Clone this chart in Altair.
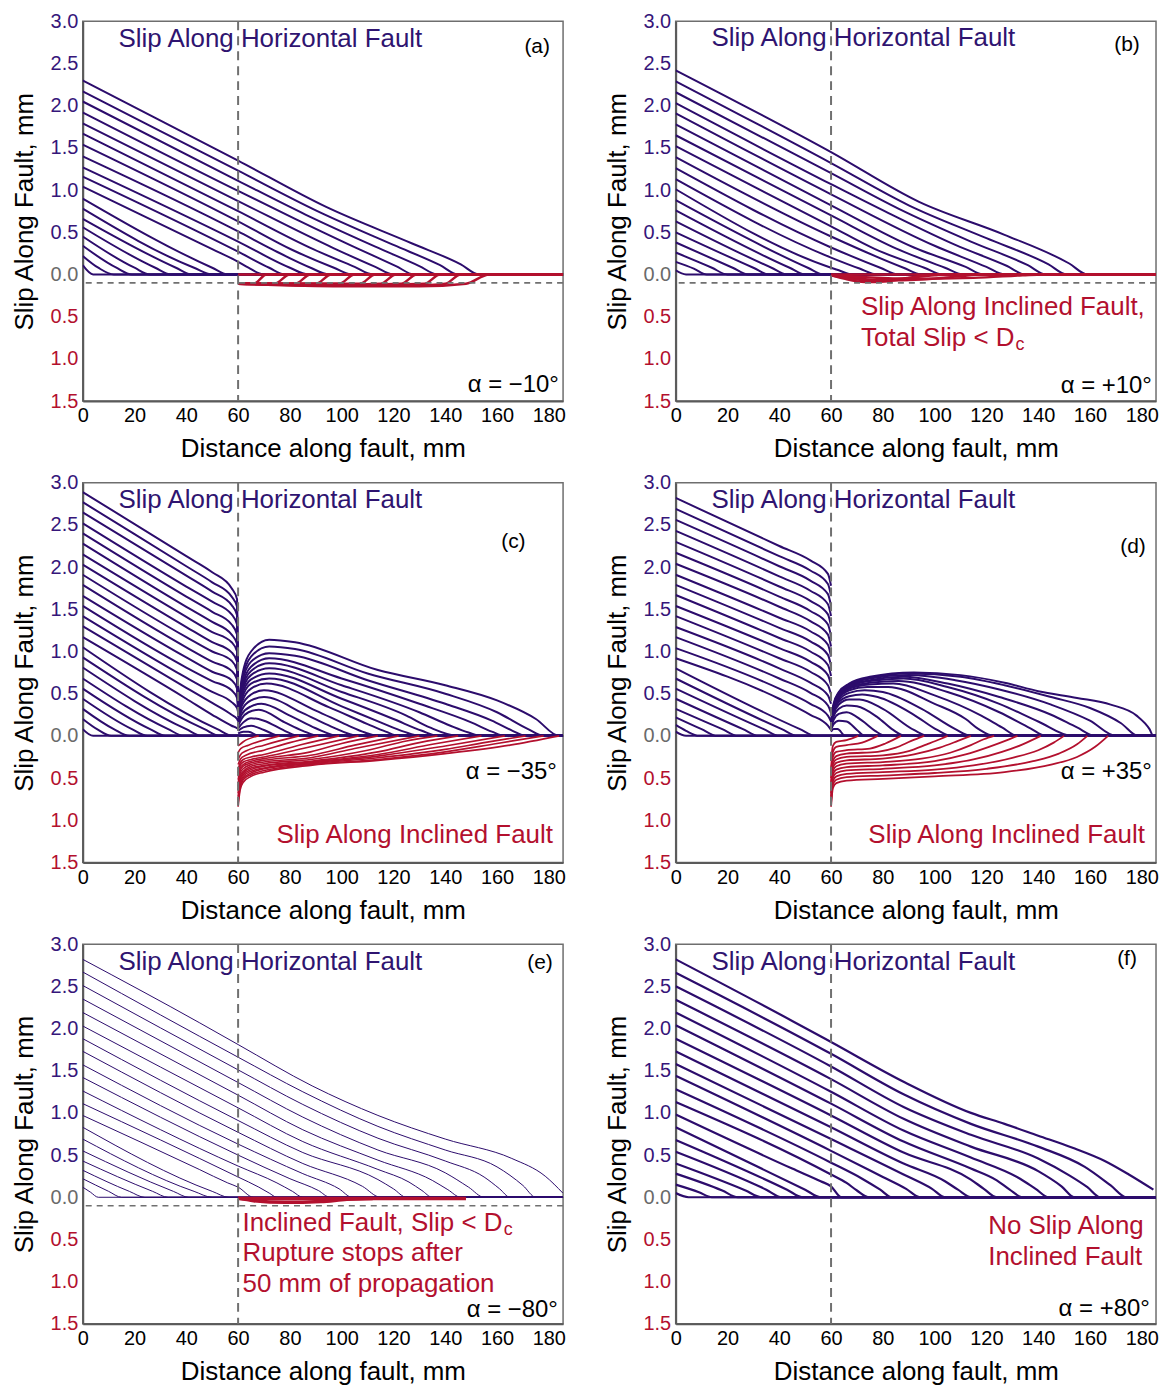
import altair as alt
import pandas as pd

PURPLE = "#2c0c6c"
PURPLE_T = "#2f1470"
RED = "#b3102e"
GRAY = "#6a6a6a"
FONT = "Liberation Sans"
X_END = 185.5

# ---------------- panel (a)  alpha = -10 deg ----------------
A_PURPLE = [
    [(0, 2.30), (60, 1.35), (94, 0.80), (127, 0.37), (146, 0.12), (153, 0)],
    [(0, 2.17), (60, 1.23), (90, 0.76), (120, 0.35), (138, 0.11), (145, 0)],
    [(0, 2.05), (60, 1.11), (86, 0.71), (113, 0.33), (130, 0.10), (137, 0)],
    [(0, 1.92), (60, 0.99), (82, 0.66), (106, 0.31), (121, 0.10), (128, 0)],
    [(0, 1.79), (60, 0.87), (97, 0.31), (113, 0.09), (120, 0)],
    [(0, 1.67), (60, 0.75), (89, 0.30), (105, 0.09), (112, 0)],
    [(0, 1.54), (60, 0.63), (81, 0.29), (97, 0.08), (104, 0)],
    [(0, 1.40), (60, 0.51), (73, 0.30), (88, 0.08), (95, 0)],
    [(0, 1.27), (60, 0.39), (80, 0.08), (87, 0)],
    [(0, 1.16), (60, 0.27), (72, 0.08), (78, 0)],
    [(0, 1.04), (50, 0.30), (60, 0.15), (64, 0.08), (70, 0)],
    [(0, 0.90), (50, 0.08), (56, 0)],
    [(0, 0.78), (43, 0.08), (50, 0)],
    [(0, 0.66), (36, 0.08), (42, 0)],
    [(0, 0.56), (28, 0.08), (34, 0)],
    [(0, 0.45), (20, 0.08), (26, 0)],
    [(0, 0.34), (13, 0.08), (19, 0)],
    [(0, 0.22), (6, 0.08), (12, 0)],
    [(0, 0.11), (4, 0)],
]
A_RED = [
    [(60, 0), (X_END, 0)],
    [(60, -0.11), (100, -0.14), (130, -0.14), (148, -0.11), (157, 0)],
    [(60, -0.11), (100, -0.135), (128, -0.13), (140, -0.11), (146, 0)],
    [(60, -0.11), (100, -0.13), (132, -0.11), (138, 0)],
    [(60, -0.11), (100, -0.125), (123, -0.11), (129, 0)],
    [(60, -0.11), (100, -0.12), (115, -0.11), (121, 0)],
    [(60, -0.11), (107, -0.11), (113, 0)],
    [(60, -0.11), (99, -0.11), (105, 0)],
    [(60, -0.11), (90, -0.11), (96, 0)],
    [(60, -0.11), (82, -0.11), (88, 0)],
    [(60, -0.11), (74, -0.11), (80, 0)],
    [(60, -0.11), (66, -0.11), (71, 0)],
]

# ---------------- panel (b)  alpha = +10 deg ----------------
B_PURPLE = [
    [(0, 2.42), (60, 1.45), (94, 0.86), (127, 0.47), (152, 0.13), (159, 0)],
    [(0, 2.29), (60, 1.32), (90, 0.82), (120, 0.43), (144, 0.12), (151, 0)],
    [(0, 2.16), (60, 1.20), (86, 0.78), (114, 0.39), (136, 0.11), (143, 0)],
    [(0, 2.03), (60, 1.07), (82, 0.73), (108, 0.35), (128, 0.10), (135, 0)],
    [(0, 1.91), (60, 0.95), (100, 0.34), (120, 0.09), (127, 0)],
    [(0, 1.78), (60, 0.82), (92, 0.32), (112, 0.09), (119, 0)],
    [(0, 1.65), (60, 0.70), (85, 0.31), (104, 0.08), (111, 0)],
    [(0, 1.52), (60, 0.57), (77, 0.30), (96, 0.08), (103, 0)],
    [(0, 1.39), (60, 0.45), (88, 0.08), (95, 0)],
    [(0, 1.26), (60, 0.32), (79, 0.08), (86, 0)],
    [(0, 1.13), (60, 0.20), (71, 0.07), (78, 0)],
    [(0, 1.01), (60, 0.08), (63, 0.05), (68, 0)],
    [(0, 0.88), (51, 0.08), (57, 0)],
    [(0, 0.76), (44, 0.08), (50, 0)],
    [(0, 0.63), (37, 0.08), (43, 0)],
    [(0, 0.50), (30, 0.08), (36, 0)],
    [(0, 0.38), (22, 0.08), (28, 0)],
    [(0, 0.26), (14, 0.08), (20, 0)],
    [(0, 0.15), (7, 0.07), (12, 0)],
    [(0, 0.05), (4, 0)],
]
B_RED = [
    [(60, 0), (X_END, 0)],
    [(60, -0.01), (65, -0.05), (73, -0.09), (82, -0.08), (92, -0.03), (98, 0)],
    [(60, -0.01), (68, -0.04), (80, -0.07), (95, -0.06), (110, -0.02), (118, 0)],
    [(60, -0.01), (72, -0.03), (90, -0.05), (115, -0.04), (134, -0.01), (142, 0)],
    [(60, -0.01), (70, -0.06), (77, -0.07), (86, -0.05), (100, -0.01), (105, 0)],
]

# ---------------- panel (c)  alpha = -35 deg ----------------
C_PURPLE = [
    # left of the junction, still slipping at x = 60
    [(0, 2.89), (40, 2.13), (50, 1.94), (57.5, 1.75), (59.6, 1.62), (60, 0.30)],
    [(0, 2.77), (40, 2.01), (50, 1.82), (57.5, 1.65), (59.6, 1.53), (60, 0.30)],
    [(0, 2.65), (40, 1.90), (50, 1.71), (57.5, 1.55), (59.6, 1.43), (60, 0.30)],
    [(0, 2.52), (40, 1.77), (50, 1.59), (57.5, 1.44), (59.6, 1.32), (60, 0.30)],
    [(0, 2.40), (40, 1.65), (50, 1.47), (57.5, 1.32), (59.6, 1.20), (60, 0.30)],
    [(0, 2.28), (40, 1.53), (50, 1.35), (57.5, 1.20), (59.6, 1.09), (60, 0.30)],
    [(0, 2.15), (40, 1.41), (50, 1.23), (57.5, 1.11), (59.6, 1.00), (60, 0.30)],
    [(0, 2.03), (40, 1.29), (50, 1.11), (57.5, 0.99), (59.6, 0.88), (60, 0.30)],
    [(0, 1.91), (40, 1.17), (50, 1.00), (57.5, 0.89), (59.6, 0.78), (60, 0.30)],
    [(0, 1.79), (40, 1.05), (50, 0.88), (57.5, 0.77), (59.6, 0.67), (60, 0.30)],
    [(0, 1.66), (40, 0.93), (50, 0.76), (57.5, 0.66), (59.6, 0.56), (60, 0.30)],
    [(0, 1.54), (40, 0.81), (50, 0.65), (57.5, 0.54), (59.6, 0.45), (60, 0.30)],
    [(0, 1.42), (40, 0.69), (50, 0.52), (57.5, 0.40), (59.6, 0.33), (60, 0.28)],
    [(0, 1.30), (40, 0.57), (50, 0.39), (57.5, 0.25), (59.6, 0.20), (60, 0.17)],
    [(0, 1.17), (40, 0.44), (50, 0.25), (57.5, 0.12), (59.6, 0.09), (60, 0.08)],
    # early profiles, arrested before the junction
    [(0, 1.05), (52, 0.08), (58, 0)],
    [(0, 0.93), (47, 0.08), (53, 0)],
    [(0, 0.81), (40, 0.08), (46, 0)],
    [(0, 0.68), (33, 0.08), (39, 0)],
    [(0, 0.56), (26, 0.08), (32, 0)],
    [(0, 0.44), (19, 0.08), (25, 0)],
    [(0, 0.32), (12, 0.08), (18, 0)],
    [(0, 0.20), (6, 0.07), (11, 0)],
    [(0, 0.08), (4, 0)],
    # right of the junction
    [(60, 0.30), (61.5, 0.70), (65, 1.00), (72, 1.14), (82, 1.11), (114, 0.78), (140, 0.60), (160, 0.42), (175, 0.20), (184, 0)],
    [(60, 0.30), (61.5, 0.66), (65, 0.94), (72, 1.06), (82, 1.03), (110, 0.74), (140, 0.50), (160, 0.28), (172, 0.08), (178, 0)],
    [(60, 0.30), (61.5, 0.62), (65, 0.88), (72, 0.98), (82, 0.95), (110, 0.66), (140, 0.38), (158, 0.18), (166, 0.06), (171, 0)],
    [(60, 0.30), (61.5, 0.58), (65, 0.82), (72, 0.92), (100, 0.68), (130, 0.38), (150, 0.16), (158, 0.05), (163, 0)],
    [(60, 0.30), (61.5, 0.55), (65, 0.77), (72, 0.86), (100, 0.60), (130, 0.28), (142, 0.12), (149, 0.04), (154, 0)],
    [(60, 0.28), (61.5, 0.52), (65, 0.72), (72, 0.80), (100, 0.52), (125, 0.24), (134, 0.10), (145, 0)],
    [(60, 0.26), (61.5, 0.48), (65, 0.67), (72, 0.74), (100, 0.44), (120, 0.20), (131, 0.06), (137, 0)],
    [(60, 0.24), (61.5, 0.44), (65, 0.62), (72, 0.68), (100, 0.35), (115, 0.16), (124, 0.05), (130, 0)],
    [(60, 0.22), (61.5, 0.40), (65, 0.56), (71, 0.62), (95, 0.34), (110, 0.14), (117, 0.05), (122, 0)],
    [(60, 0.20), (61.5, 0.36), (65, 0.49), (70, 0.54), (90, 0.30), (102, 0.13), (109, 0.04), (114, 0)],
    [(60, 0.18), (61.5, 0.31), (65, 0.42), (70, 0.46), (85, 0.27), (96, 0.11), (106.5, 0)],
    [(60, 0.15), (61.5, 0.26), (65, 0.35), (69, 0.38), (80, 0.24), (90, 0.09), (99, 0)],
    [(60, 0.12), (61.5, 0.21), (64, 0.28), (68, 0.31), (78, 0.16), (85, 0.06), (91, 0)],
    [(60, 0.09), (62, 0.16), (65, 0.21), (70, 0.18), (78, 0.06), (83.5, 0)],
    [(60, 0.06), (62, 0.10), (65, 0.12), (70, 0.07), (76, 0)],
    [(60, 0.03), (62, 0.05), (64, 0.05), (68, 0)],
]
C_RED = [
    [(60, -0.84), (60.8, -0.64), (62, -0.55), (65, -0.48), (70, -0.43), (88, -0.35), (114, -0.29), (140, -0.21), (165, -0.11), (184, 0)],
    [(60, -0.80), (60.8, -0.61), (62, -0.52), (65, -0.46), (70, -0.41), (88, -0.34), (114, -0.28), (140, -0.19), (160, -0.09), (178, 0)],
    [(60, -0.76), (60.8, -0.58), (62, -0.50), (65, -0.44), (70, -0.39), (88, -0.33), (114, -0.26), (140, -0.16), (155, -0.08), (171, 0)],
    [(60, -0.72), (60.8, -0.55), (62, -0.48), (65, -0.42), (70, -0.38), (88, -0.32), (114, -0.24), (140, -0.12), (163, 0)],
    [(60, -0.68), (60.8, -0.52), (62, -0.46), (65, -0.40), (70, -0.36), (88, -0.31), (114, -0.22), (135, -0.10), (154, 0)],
    [(60, -0.64), (60.8, -0.50), (62, -0.44), (65, -0.38), (70, -0.35), (88, -0.30), (114, -0.19), (130, -0.08), (145, 0)],
    [(60, -0.60), (60.8, -0.47), (62, -0.42), (65, -0.36), (70, -0.33), (88, -0.28), (110, -0.17), (125, -0.06), (137, 0)],
    [(60, -0.56), (60.8, -0.44), (62, -0.39), (65, -0.34), (70, -0.31), (88, -0.26), (105, -0.15), (130, 0)],
    [(60, -0.52), (60.8, -0.41), (62, -0.36), (65, -0.32), (70, -0.29), (88, -0.23), (105, -0.11), (122, 0)],
    [(60, -0.48), (60.8, -0.38), (62, -0.34), (65, -0.30), (70, -0.27), (88, -0.19), (100, -0.09), (114, 0)],
    [(60, -0.44), (60.8, -0.35), (62, -0.31), (65, -0.28), (70, -0.25), (85, -0.15), (106.5, 0)],
    [(60, -0.40), (60.8, -0.32), (62, -0.28), (65, -0.25), (70, -0.22), (85, -0.10), (99, 0)],
    [(60, -0.34), (61, -0.27), (63, -0.23), (70, -0.17), (80, -0.08), (91, 0)],
    [(60, -0.28), (61, -0.22), (63, -0.18), (70, -0.11), (83.5, 0)],
    [(60, -0.20), (61, -0.15), (64, -0.11), (76, 0)],
    [(60, -0.12), (62, -0.07), (68, 0)],
]

# ---------------- panel (d)  alpha = +35 deg ----------------
D_PURPLE = [
    [(0, 2.82), (40, 2.25), (52, 2.08), (58.8, 1.92), (60, 1.78)],
    [(0, 2.69), (40, 2.13), (52, 1.96), (58.8, 1.80), (60, 1.66)],
    [(0, 2.56), (40, 2.01), (52, 1.84), (58.8, 1.68), (60, 1.54)],
    [(0, 2.43), (40, 1.89), (52, 1.72), (58.8, 1.56), (60, 1.42)],
    [(0, 2.30), (40, 1.77), (52, 1.60), (58.8, 1.44), (60, 1.30)],
    [(0, 2.17), (40, 1.65), (52, 1.48), (58.8, 1.32), (60, 1.18)],
    [(0, 2.04), (40, 1.53), (52, 1.36), (58.8, 1.20), (60, 1.06)],
    [(0, 1.91), (40, 1.40), (52, 1.24), (58.8, 1.08), (60, 0.94)],
    [(0, 1.79), (40, 1.28), (52, 1.12), (58.8, 0.96), (60, 0.83)],
    [(0, 1.67), (40, 1.16), (52, 1.00), (58.8, 0.84), (60, 0.71)],
    [(0, 1.54), (40, 1.04), (52, 0.88), (58.8, 0.72), (60, 0.60)],
    [(0, 1.42), (40, 0.92), (52, 0.76), (58.8, 0.60), (60, 0.49)],
    [(0, 1.29), (40, 0.80), (52, 0.63), (58.8, 0.48), (60, 0.38)],
    [(0, 1.17), (40, 0.68), (52, 0.51), (58.8, 0.36), (60, 0.27)],
    [(0, 1.04), (40, 0.56), (52, 0.38), (58.8, 0.24), (60, 0.17)],
    [(0, 0.92), (40, 0.44), (52, 0.25), (58.8, 0.12), (60, 0.07)],
    [(0, 0.80), (48, 0.08), (54, 0)],
    [(0, 0.68), (41, 0.08), (47, 0)],
    [(0, 0.56), (34, 0.08), (40, 0)],
    [(0, 0.44), (26, 0.08), (32, 0)],
    [(0, 0.32), (18, 0.08), (24, 0)],
    [(0, 0.22), (10, 0.08), (16, 0)],
    [(0, 0.13), (4, 0.06), (9, 0)],
    [(0, 0.05), (4, 0)],
    [(60, 0.15), (61, 0.38), (63, 0.52), (67, 0.62), (75, 0.70), (92, 0.75), (110, 0.72), (127, 0.63), (140, 0.53), (155, 0.45), (168, 0.37), (178, 0.24), (183, 0.08), (184.5, 0)],
    [(60, 0.15), (61, 0.37), (63, 0.51), (67, 0.61), (75, 0.69), (90, 0.74), (110, 0.70), (127, 0.60), (145, 0.46), (160, 0.33), (172, 0.15), (178.6, 0)],
    [(60, 0.15), (61, 0.36), (63, 0.50), (67, 0.60), (75, 0.68), (90, 0.72), (108, 0.66), (125, 0.55), (145, 0.37), (160, 0.18), (170, 0)],
    [(60, 0.14), (61, 0.35), (63, 0.49), (67, 0.59), (75, 0.66), (88, 0.70), (105, 0.62), (125, 0.46), (145, 0.25), (155, 0.10), (162, 0)],
    [(60, 0.14), (61, 0.34), (63, 0.48), (67, 0.58), (75, 0.65), (88, 0.68), (105, 0.58), (125, 0.38), (140, 0.17), (153, 0)],
    [(60, 0.14), (61, 0.33), (63, 0.47), (67, 0.57), (75, 0.63), (86, 0.65), (105, 0.52), (125, 0.28), (137, 0.09), (143, 0)],
    [(60, 0.13), (61, 0.32), (63, 0.46), (67, 0.56), (75, 0.61), (84, 0.62), (100, 0.48), (118, 0.24), (126, 0.10), (132, 0)],
    [(60, 0.13), (61, 0.31), (63, 0.44), (67, 0.54), (74, 0.58), (82, 0.58), (100, 0.38), (112, 0.20), (117, 0.08), (123, 0)],
    [(60, 0.12), (61, 0.30), (63, 0.42), (67, 0.51), (73, 0.54), (80, 0.52), (95, 0.32), (108, 0.08), (114, 0)],
    [(60, 0.12), (61, 0.28), (63, 0.40), (67, 0.47), (72, 0.49), (78, 0.46), (92, 0.25), (101, 0.07), (106.5, 0)],
    [(60, 0.11), (61, 0.26), (63, 0.37), (67, 0.43), (71, 0.43), (80, 0.32), (92, 0.07), (97.6, 0)],
    [(60, 0.10), (61, 0.23), (63, 0.32), (66, 0.36), (70, 0.35), (78, 0.22), (84, 0.07), (88.6, 0)],
    [(60, 0.09), (61, 0.19), (63, 0.26), (66, 0.28), (72, 0.18), (77, 0.06), (81, 0)],
    [(60, 0.07), (61, 0.14), (63, 0.18), (66, 0.17), (70, 0.07), (73, 0)],
    [(60, 0.05), (61, 0.08), (62.5, 0.08), (65.5, 0)],
]
D_RED = [
    [(60, -0.84), (60.7, -0.62), (62, -0.56), (66, -0.53), (80, -0.51), (100, -0.48), (127, -0.43), (145, -0.34), (155, -0.25), (162, -0.13), (167, 0)],
    [(60, -0.80), (60.7, -0.58), (62, -0.52), (66, -0.49), (80, -0.47), (100, -0.44), (120, -0.39), (138, -0.30), (148, -0.21), (155, -0.10), (159, 0)],
    [(60, -0.76), (60.7, -0.54), (62, -0.48), (66, -0.45), (80, -0.43), (100, -0.40), (115, -0.35), (130, -0.26), (140, -0.17), (146, -0.08), (150, 0)],
    [(60, -0.72), (60.7, -0.50), (62, -0.44), (66, -0.41), (80, -0.39), (100, -0.35), (115, -0.28), (126, -0.19), (134, -0.10), (141, 0)],
    [(60, -0.68), (60.7, -0.46), (62, -0.40), (66, -0.37), (80, -0.35), (100, -0.30), (112, -0.22), (121, -0.13), (128, -0.05), (132, 0)],
    [(60, -0.64), (60.7, -0.42), (62, -0.36), (66, -0.33), (80, -0.31), (95, -0.27), (106, -0.20), (114, -0.11), (119, -0.04), (123, 0)],
    [(60, -0.60), (60.7, -0.38), (62, -0.32), (66, -0.29), (80, -0.27), (92, -0.22), (102, -0.14), (109, -0.06), (114, 0)],
    [(60, -0.55), (60.7, -0.34), (62, -0.28), (66, -0.25), (80, -0.23), (90, -0.18), (97, -0.10), (102, -0.04), (105, 0)],
    [(60, -0.50), (60.7, -0.30), (62, -0.24), (66, -0.21), (78, -0.19), (85, -0.14), (91, -0.06), (96, 0)],
    [(60, -0.45), (60.7, -0.25), (62, -0.19), (66, -0.17), (75, -0.15), (81, -0.09), (87, 0)],
    [(60, -0.38), (60.7, -0.19), (62, -0.13), (66, -0.11), (72, -0.08), (78, 0)],
    [(60, -0.30), (60.7, -0.12), (62, -0.07), (66, -0.05), (70.5, 0)],
]

# ---------------- panel (e)  alpha = -80 deg ----------------
E_PURPLE = [
    [(0, 2.82), (45, 2.07), (60, 1.81), (88.6, 1.32), (114, 0.97), (140, 0.69), (165.7, 0.46), (178.6, 0.25), (185.4, 0.05)],
    [(0, 2.67), (60, 1.66), (85, 1.25), (114, 0.84), (140, 0.56), (160, 0.36), (170, 0.14), (175, 0)],
    [(0, 2.51), (60, 1.51), (85, 1.10), (114, 0.70), (140, 0.43), (155, 0.24), (161, 0.10), (165, 0)],
    [(0, 2.35), (60, 1.36), (85, 0.95), (114, 0.56), (140, 0.29), (149, 0.12), (155, 0)],
    [(0, 2.19), (60, 1.21), (85, 0.80), (114, 0.44), (135, 0.20), (141, 0.09), (146, 0)],
    [(0, 2.03), (60, 1.06), (85, 0.66), (114, 0.33), (126, 0.18), (131, 0.08), (135, 0)],
    [(0, 1.88), (60, 0.91), (85, 0.53), (114, 0.21), (120, 0.10), (125, 0)],
    [(0, 1.73), (60, 0.77), (85, 0.40), (108, 0.13), (115, 0)],
    [(0, 1.57), (60, 0.63), (85, 0.28), (99, 0.10), (104, 0)],
    [(0, 1.42), (60, 0.50), (80, 0.22), (91, 0.08), (95.5, 0)],
    [(0, 1.26), (60, 0.37), (75, 0.17), (81, 0.07), (85, 0)],
    [(0, 1.11), (60, 0.24), (68, 0.12), (72, 0.05), (75, 0)],
    [(0, 0.97), (45, 0.33), (56, 0.17), (60, 0.12), (66, 0)],
    [(0, 0.83), (50, 0.07), (56.5, 0)],
    [(0, 0.69), (43, 0.07), (50, 0)],
    [(0, 0.55), (35, 0.07), (41, 0)],
    [(0, 0.43), (27, 0.07), (33, 0)],
    [(0, 0.32), (18, 0.07), (24, 0)],
    [(0, 0.22), (10, 0.07), (15, 0)],
    [(0, 0.12), (3, 0.06), (6, 0)],
]
E_RED = [
    [(60, -0.015), (148, -0.015)],
    [(60, -0.01), (66, -0.04), (78, -0.06), (92, -0.05), (102, -0.025), (112, -0.015)],
]

# ---------------- panel (f)  alpha = +80 deg ----------------
F_PURPLE = [
    [(0, 2.82), (45, 2.09), (60, 1.84), (88.6, 1.36), (114, 1.00), (127, 0.87), (140, 0.73), (153, 0.59), (165.7, 0.43), (175, 0.27), (184.5, 0.09)],
    [(0, 2.66), (60, 1.70), (88, 1.22), (114, 0.87), (140, 0.60), (158, 0.36), (168, 0.14), (174, 0)],
    [(0, 2.50), (60, 1.55), (88, 1.07), (114, 0.74), (140, 0.46), (152, 0.26), (159, 0.12), (164, 0)],
    [(0, 2.34), (60, 1.40), (88, 0.93), (114, 0.60), (140, 0.31), (149, 0.13), (154, 0)],
    [(0, 2.19), (60, 1.25), (88, 0.79), (114, 0.47), (133, 0.22), (139, 0.10), (144, 0)],
    [(0, 2.04), (60, 1.11), (88, 0.66), (114, 0.34), (124, 0.20), (129, 0.09), (134, 0)],
    [(0, 1.88), (60, 0.97), (88, 0.53), (114, 0.21), (119, 0.10), (124, 0)],
    [(0, 1.73), (60, 0.83), (88, 0.40), (104, 0.19), (109, 0.09), (114.3, 0)],
    [(0, 1.58), (60, 0.69), (88, 0.27), (99, 0.10), (104, 0)],
    [(0, 1.44), (60, 0.55), (80, 0.24), (89, 0.10), (94.4, 0)],
    [(0, 1.28), (60, 0.41), (72, 0.22), (79, 0.09), (83.5, 0)],
    [(0, 1.13), (60, 0.27), (66, 0.17), (70, 0.08), (74.5, 0)],
    [(0, 0.98), (45, 0.34), (56, 0.19), (60, 0.13), (64, 0)],
    [(0, 0.83), (50, 0.09), (56, 0)],
    [(0, 0.68), (43, 0.09), (49, 0)],
    [(0, 0.54), (35, 0.09), (41, 0)],
    [(0, 0.40), (27, 0.08), (33, 0)],
    [(0, 0.28), (18, 0.08), (24, 0)],
    [(0, 0.15), (9, 0.06), (14, 0)],
    [(0, 0.05), (5, 0)],
]
F_RED = []

X_TICKS = [0, 20, 40, 60, 80, 100, 120, 140, 160, 180]
Y_TICKS = [-1.5, -1.0, -0.5, 0.0, 0.5, 1.0, 1.5, 2.0, 2.5, 3.0]
JUNCTION = [60.0]
DC_LEVEL = [-0.1]

HTXT = "Slip Along Horizontal Fault"
TEXTS = {
    "a": [(13.8, 2.79, HTXT, PURPLE_T, 26, "left"),
          (175.5, 2.70, "(a)", "black", 21, "center"),
          (183.9, -1.31, "α = −10°", "black", 24, "right")],
    "b": [(13.8, 2.80, HTXT, PURPLE_T, 26, "left"),
          (174.3, 2.72, "(b)", "black", 21, "center"),
          (183.9, -1.32, "α = +10°", "black", 24, "right"),
          (71.6, -0.39, "Slip Along Inclined Fault,", RED, 26, "left"),
          (71.6, -0.75, "Total Slip < D", RED, 26, "left"),
          (131.2, -0.84, "c", RED, 18, "left")],
    "c": [(13.8, 2.79, HTXT, PURPLE_T, 26, "left"),
          (166.3, 2.30, "(c)", "black", 21, "center"),
          (183.1, -0.43, "α = −35°", "black", 24, "right"),
          (181.6, -1.17, "Slip Along Inclined Fault", RED, 26, "right")],
    "d": [(13.8, 2.79, HTXT, PURPLE_T, 26, "left"),
          (176.6, 2.24, "(d)", "black", 21, "center"),
          (183.9, -0.43, "α = +35°", "black", 24, "right"),
          (181.2, -1.17, "Slip Along Inclined Fault", RED, 26, "right")],
    "e": [(13.8, 2.79, HTXT, PURPLE_T, 26, "left"),
          (176.6, 2.78, "(e)", "black", 21, "center"),
          (183.5, -1.34, "α = −80°", "black", 24, "right"),
          (61.7, -0.30, "Inclined Fault, Slip < D", RED, 26, "left"),
          (162.6, -0.39, "c", RED, 18, "left"),
          (61.7, -0.66, "Rupture stops after", RED, 26, "left"),
          (61.7, -1.03, "50 mm of propagation", RED, 26, "left")],
    "f": [(13.8, 2.79, HTXT, PURPLE_T, 26, "left"),
          (174.3, 2.82, "(f)", "black", 21, "center"),
          (183.1, -1.32, "α = +80°", "black", 24, "right"),
          (120.7, -0.34, "No Slip Along", RED, 26, "left"),
          (120.7, -0.71, "Inclined Fault", RED, 26, "left")],
}

W, H = 482, 381

XENC = alt.X("x:Q", scale=alt.Scale(domain=[0, X_END], nice=False, zero=False),
             axis=alt.Axis(values=X_TICKS, format="d", title="Distance along fault, mm",
                           labelFlush=False, labelPadding=5, titlePadding=10))
YENC = alt.Y("y:Q", scale=alt.Scale(domain=[-1.5, 3.0], nice=False, zero=False),
             axis=alt.Axis(values=Y_TICKS, title="Slip Along Fault, mm",
                           labelExpr="format(abs(datum.value), '.1f')",
                           labelColor={"condition": [
                               {"test": "datum.value < 0", "value": RED},
                               {"test": "datum.value == 0", "value": GRAY}],
                               "value": "#36167a"},
                           labelPadding=5, titlePadding=13, labelFlush=False))


def curves_df(curves, tag, extend):
    rows = []
    for ci, pts in enumerate(curves):
        pts = list(pts)
        if extend and pts[-1][1] == 0 and pts[-1][0] < X_END:
            pts.append((X_END, 0.0))
        for oi, (x, y) in enumerate(pts):
            rows.append({"curve": f"{tag}{ci}", "o": oi, "x": x, "y": y})
    return pd.DataFrame(rows)


def panel(key, purple, red, pw, rw, red_extend, dc_line):
    layers = [
        alt.Chart(curves_df(purple, "p", True)).mark_line(
            interpolate="monotone", color=PURPLE, strokeWidth=pw, clip=True
        ).encode(x=XENC, y=YENC, detail="curve:N", order="o:Q")
    ]
    if red:
        layers.append(
            alt.Chart(curves_df(red, "r", red_extend)).mark_line(
                interpolate="monotone", color=RED, strokeWidth=rw, clip=True
            ).encode(x=XENC, y=YENC, detail="curve:N", order="o:Q"))
    layers.append(
        alt.Chart(pd.DataFrame({"x": JUNCTION})).mark_rule(
            color="#707070", strokeWidth=2, strokeDash=[9, 6]
        ).encode(x=XENC))
    if dc_line:
        layers.append(
            alt.Chart(pd.DataFrame({"y": DC_LEVEL})).mark_rule(
                color="#707070", strokeWidth=1.6, strokeDash=[6, 5]
            ).encode(y=YENC))
    for (x, y, t, col, fs, al) in TEXTS[key]:
        layers.append(
            alt.Chart(pd.DataFrame({"x": [x], "y": [y], "t": [t]})).mark_text(
                align=al, baseline="middle", font=FONT, fontSize=fs, color=col
            ).encode(x=XENC, y=YENC, text="t:N"))
    return alt.layer(*layers).properties(width=W, height=H)


pa = panel("a", A_PURPLE, A_RED, 2.0, 2.4, True, True)
pb = panel("b", B_PURPLE, B_RED, 2.0, 2.4, True, True)
pc = panel("c", C_PURPLE, C_RED, 2.0, 1.6, False, False)
pd_ = panel("d", D_PURPLE, D_RED, 2.0, 1.8, False, False)
pe = panel("e", E_PURPLE, E_RED, 1.0, 3.5, False, True)
pf = panel("f", F_PURPLE, F_RED, 2.2, 2.0, False, False)

HS = 36
chart = alt.vconcat(
    alt.hconcat(pa, pb, spacing=HS),
    alt.hconcat(pc, pd_, spacing=HS),
    alt.hconcat(pe, pf, spacing=HS),
    spacing=9,
).properties(
    padding={"left": 2, "top": 0, "right": 0, "bottom": 0},
    background="white",
).configure_view(
    stroke="#6e6e6e", strokeWidth=1.5
).configure_axis(
    grid=False, ticks=False, domainColor="#5a5a5a", domainWidth=2,
    labelFont=FONT, labelFontSize=20, labelColor="black",
    titleFont=FONT, titleFontSize=26, titleFontWeight="normal", titleColor="black",
)

chart.save("out.html", embed_options={"renderer": "svg", "actions": False})
